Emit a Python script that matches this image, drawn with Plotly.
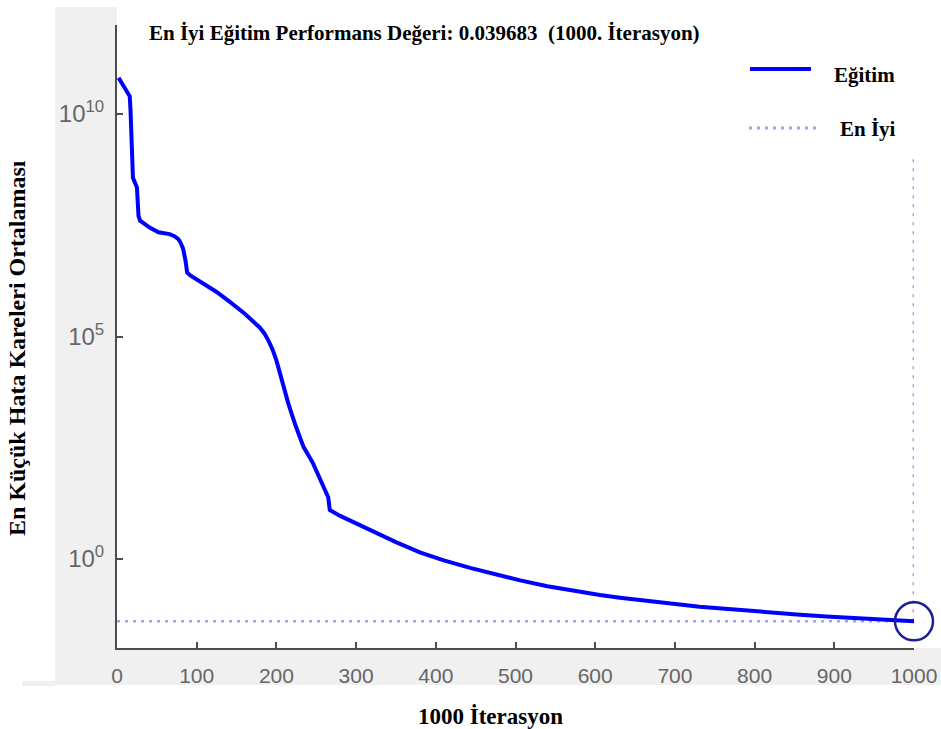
import plotly.graph_objects as go

# Training curve: mean squared error per iteration
iterations = [2, 8, 14, 16, 17, 18, 19, 20, 25, 26, 27, 29, 41, 52, 66, 72, 77, 80, 83, 86,
              88, 92, 100, 110, 125, 142, 160, 179, 185, 190, 195, 200, 205, 209, 215, 224,
              234, 246, 256, 265, 267, 280, 300, 317, 350, 380, 410, 443, 475, 506, 540,
              568, 606, 631, 669, 700, 731, 763, 794, 825, 857, 890, 920, 960, 1000]
mse = [6.5e10, 4.3e10, 2.75e10, 2.5e10, 1.17e10, 4.9e9, 1.26e9, 3.7e8, 2.24e8, 1.12e8,
       5.1e7, 4.0e7, 2.8e7, 2.2e7, 2.0e7, 1.8e7, 1.55e7, 1.26e7, 9.3e6, 5.0e6,
       2.75e6, 2.35e6, 1.9e6, 1.5e6, 1.0e6, 5.9e5, 3.3e5, 1.6e5, 1.17e5, 8.1e4, 5.2e4,
       2.9e4, 1.4e4, 7.2e3, 3.1e3, 1.0e3,
       331, 141, 56, 24.5, 12.6, 9.3, 6.3, 4.5, 2.4, 1.41, 0.933, 0.631, 0.447, 0.331, 0.245,
       0.200, 0.155, 0.135, 0.112, 0.098, 0.085, 0.076, 0.068, 0.062, 0.056, 0.051,
       0.048, 0.0437, 0.039683]

best_epoch = 1000
best_mse = 0.039683
best_guide_top = 1e9

x_tick_vals = list(range(0, 1001, 100))
y_tick_vals = [1, 1e5, 1e10]
y_tick_text = ["10<sup>0</sup>", "10<sup>5</sup>", "10<sup>10</sup>"]

title_text = "En İyi Eğitim Performans Değeri: 0.039683\u00a0\u00a0(1000. İterasyon)"
x_title = "1000 İterasyon"
y_title = "En Küçük Hata Kareleri Ortalaması"
legend_names = ["Eğitim", "En İyi"]

W, H = 941, 729
L, R, T, B = 117, 914, 25, 648

def px(x):
    return (x - L) / (R - L)

def py(y):
    return (B - y) / (B - T)

SERIF = "Liberation Serif"
SANS = "Liberation Sans"
BLUE = "#0000ff"
DOT = "#a4a4ee"
GRAY_BG = "#f0f0f0"
AXIS = "#4d4d4d"

fig = go.Figure()

fig.add_trace(go.Scatter(
    x=[0, best_epoch], y=[best_mse, best_mse], mode="lines",
    line=dict(color=DOT, width=2.5, dash="3px,5px"), showlegend=False, hoverinfo="skip"))
fig.add_trace(go.Scatter(
    x=[best_epoch, best_epoch], y=[best_mse, best_guide_top], mode="lines",
    line=dict(color=DOT, width=3, dash="3px,6px"), showlegend=False, hoverinfo="skip",
    cliponaxis=False))
fig.add_trace(go.Scatter(
    x=iterations, y=mse, mode="lines", name=legend_names[0],
    line=dict(color=BLUE, width=4), showlegend=False))
fig.add_trace(go.Scatter(
    x=[best_epoch], y=[best_mse], mode="markers", name=legend_names[1],
    marker=dict(symbol="circle-open", size=38, color="#1c1c9c", line=dict(width=2.5)),
    cliponaxis=False, showlegend=False))

shapes = [
    dict(type="rect", xref="paper", yref="paper", x0=px(55), x1=px(117), y0=py(685), y1=py(7),
         fillcolor=GRAY_BG, line=dict(width=0), layer="below"),
    dict(type="rect", xref="paper", yref="paper", x0=px(55), x1=px(941), y0=py(685), y1=py(648),
         fillcolor=GRAY_BG, line=dict(width=0), layer="below"),
    dict(type="rect", xref="paper", yref="paper", x0=px(22), x1=px(55), y0=py(686), y1=py(681),
         fillcolor=GRAY_BG, line=dict(width=0), layer="below"),
    # legend samples
    dict(type="line", xref="paper", yref="paper", x0=px(750), x1=px(811), y0=py(69), y1=py(69),
         line=dict(color=BLUE, width=4)),
    dict(type="line", xref="paper", yref="paper", x0=px(749), x1=px(818), y0=py(128), y1=py(128),
         line=dict(color=DOT, width=3, dash="3px,5px")),
]

annotations = [
    dict(text="<b>%s</b>" % title_text, xref="paper", yref="paper", x=px(424), y=py(33),
         xanchor="center", yanchor="middle", showarrow=False,
         font=dict(family=SERIF, size=21, color="#000")),
    dict(text="<b>%s</b>" % x_title, xref="paper", yref="paper", x=px(490), y=py(716),
         xanchor="center", yanchor="middle", showarrow=False,
         font=dict(family=SERIF, size=23, color="#000")),
    dict(text="<b>%s</b>" % y_title, xref="paper", yref="paper", x=px(17), y=py(348),
         xanchor="center", yanchor="middle", showarrow=False, textangle=-90,
         font=dict(family=SERIF, size=24, color="#000")),
    dict(text="<b>%s</b>" % legend_names[0], xref="paper", yref="paper", x=px(832), y=py(75),
         xanchor="left", yanchor="middle", showarrow=False,
         font=dict(family=SERIF, size=21, color="#000")),
    dict(text="<b>%s</b>" % legend_names[1], xref="paper", yref="paper", x=px(838), y=py(129),
         xanchor="left", yanchor="middle", showarrow=False,
         font=dict(family=SERIF, size=21, color="#000")),
]

fig.update_layout(
    width=W, height=H,
    margin=dict(l=L, r=W - R, t=T, b=H - B, pad=0, autoexpand=False),
    paper_bgcolor="white", plot_bgcolor="white",
    shapes=shapes, annotations=annotations, showlegend=False,
    xaxis=dict(range=[0, 1000], tickvals=x_tick_vals, showgrid=False, zeroline=False,
               showline=True, linecolor=AXIS, linewidth=2, ticks="inside", ticklen=6,
               tickwidth=2, tickcolor=AXIS, ticklabelstandoff=8,
               tickfont=dict(family=SANS, size=21, color="#666666")),
    yaxis=dict(type="log", range=[-2, 12], tickvals=y_tick_vals, ticktext=y_tick_text,
               showgrid=False, zeroline=False, showline=True, linecolor=AXIS, linewidth=2,
               ticks="inside", ticklen=6, tickwidth=2, tickcolor=AXIS, ticklabelstandoff=6,
               tickfont=dict(family=SANS, size=24, color="#666666")),
)

fig.write_html("out.html")
